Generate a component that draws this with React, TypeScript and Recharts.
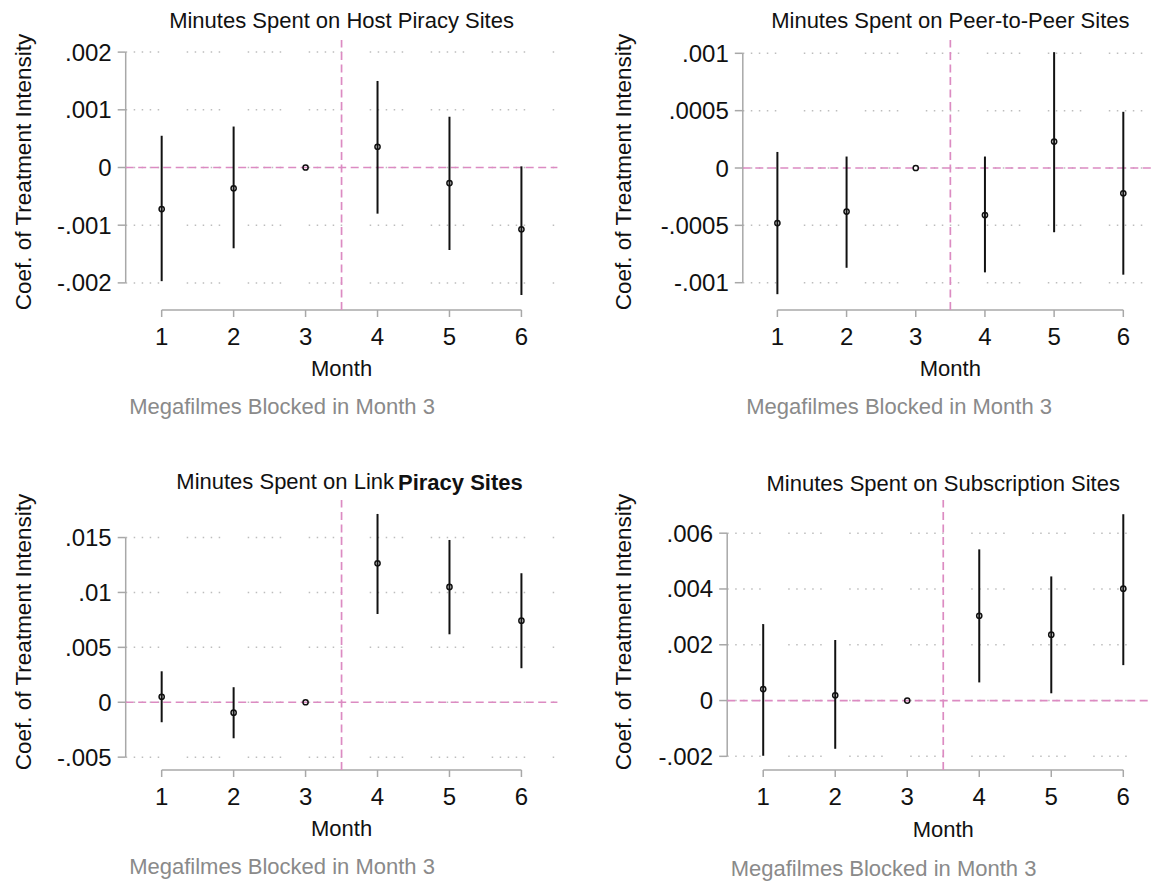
import React from "react";
import {
  CartesianGrid,
  ComposedChart,
  ErrorBar,
  ReferenceLine,
  Scatter,
  XAxis,
  YAxis,
} from "recharts";

const months = [1, 2, 3, 4, 5, 6];

// Host piracy sites
const hostEst = [-0.00072, -0.00036, 0, 0.00036, -0.00027, -0.00107];
const hostLo = [-0.00197, -0.0014, 0, -0.0008, -0.00143, -0.00221];
const hostHi = [0.00055, 0.00071, 0, 0.0015, 0.00088, 0.00002];
const hostTicks = [-0.002, -0.001, 0, 0.001, 0.002];

// Peer-to-peer sites
const p2pEst = [-0.00048, -0.00038, 0, -0.00041, 0.00023, -0.00022];
const p2pLo = [-0.0011, -0.00087, 0, -0.00091, -0.00056, -0.00093];
const p2pHi = [0.00014, 0.0001, 0, 0.0001, 0.00101, 0.00049];
const p2pTicks = [-0.001, -0.0005, 0, 0.0005, 0.001];

// Link piracy sites
const linkEst = [0.0005, -0.00095, 0, 0.01266, 0.0105, 0.00743];
const linkLo = [-0.00182, -0.00328, 0, 0.00804, 0.00619, 0.0031];
const linkHi = [0.00282, 0.00137, 0, 0.01715, 0.01478, 0.01175];
const linkTicks = [-0.005, 0, 0.005, 0.01, 0.015];

// Subscription sites
const subEst = [0.00041, 0.00019, 0, 0.00304, 0.00236, 0.00401];
const subLo = [-0.00198, -0.00173, 0, 0.00065, 0.00026, 0.00127];
const subHi = [0.00274, 0.00217, 0, 0.00542, 0.00445, 0.00668];
const subTicks = [-0.002, 0, 0.002, 0.004, 0.006];

const FONT = '"Liberation Sans", Arial, Helvetica, sans-serif';
const INK = "#111111";
const AXIS = "#a8a8a8";
const PINK = "#dc8bc2";
const NOTE = "#8a8a8a";
const GRID_DASH = "1.5 6.5 1.5 6.5 1.5 6.5 1.5 6.5 1.5 27.5";

function fmt(v: number): string {
  if (v === 0) return "0";
  return String(v).replace("0.", ".");
}

interface PanelProps {
  title: string;
  boldTail?: string;
  est: number[];
  lo: number[];
  hi: number[];
  ticks: number[];
  domain: [number, number];
  left: number;
  top: number;
  width: number;
  height: number;
  yAxisWidth: number;
  marginRight: number;
  titleY: number;
  titleShift: number;
  monthY: number;
  noteY: number;
}

function Dot(props: any) {
  const { cx, cy } = props;
  if (cx == null || cy == null) return null;
  return <circle cx={cx} cy={cy} r={2.6} fill="none" stroke={INK} strokeWidth={1.5} />;
}

function Panel(p: PanelProps) {
  const rows = months.map((m, i) => ({
    month: m,
    est: p.est[i],
    err: [p.est[i] - p.lo[i], p.hi[i] - p.est[i]],
  }));
  const plotLeft = p.yAxisWidth;
  const plotRight = p.width - p.marginRight;
  const plotCenter = (plotLeft + plotRight) / 2;
  const [dMin, dMax] = p.domain;

  // grid rows only at the labelled ticks (not at the plot edges)
  const gridRows = (args: any) => {
    const off = args && args.offset ? args.offset : { top: 40, height: 270 };
    return p.ticks.map((t) => off.top + ((dMax - t) / (dMax - dMin)) * off.height);
  };

  const extraText = () => (
    <g fontFamily={FONT}>
      <text
        x={plotCenter + p.titleShift}
        y={p.titleY}
        textAnchor="middle"
        dominantBaseline="central"
        fontSize={22}
        fill={INK}
      >
        {p.title}
        {p.boldTail ? (
          <tspan fontWeight="bold" dx={4}>
            {p.boldTail}
          </tspan>
        ) : null}
      </text>
      <text
        x={plotCenter}
        y={p.monthY}
        textAnchor="middle"
        dominantBaseline="central"
        fontSize={22}
        fill={INK}
      >
        Month
      </text>
      <text
        x={plotLeft + 3.5}
        y={p.noteY}
        textAnchor="start"
        dominantBaseline="central"
        fontSize={22}
        fill={NOTE}
      >
        Megafilmes Blocked in Month 3
      </text>
    </g>
  );

  const titleX = p.left === 0 ? 23 : 47.7;
  const yTitle = () => (
    <text
      x={titleX}
      y={172}
      transform={`rotate(-90, ${titleX}, 172)`}
      textAnchor="middle"
      dominantBaseline="central"
      fontFamily={FONT}
      fontSize={22.5}
      fill={INK}
    >
      Coef. of Treatment Intensity
    </text>
  );

  return (
    <div style={{ position: "absolute", left: p.left, top: p.top }}>
      <ComposedChart
        width={p.width}
        height={p.height}
        data={rows}
        margin={{ top: 40, right: p.marginRight, left: 0, bottom: p.height - 310 - 30 }}
      >
        <CartesianGrid
          vertical={false}
          stroke="#bdbdbd"
          strokeWidth={1.5}
          strokeDasharray={GRID_DASH}
          horizontalCoordinatesGenerator={gridRows}
        />
        <XAxis
          dataKey="month"
          type="number"
          domain={[0.5, 6.5]}
          ticks={months}
          allowDataOverflow
          height={30}
          axisLine={false}
          tickLine={{ stroke: AXIS, strokeWidth: 1.5 }}
          tickSize={7}
          tickMargin={11}
          tick={{ fontFamily: FONT, fontSize: 24, fill: INK }}
          label={{ content: extraText }}
        />
        <YAxis
          dataKey="est"
          type="number"
          domain={p.domain}
          ticks={p.ticks}
          allowDataOverflow
          width={p.yAxisWidth}
          axisLine={false}
          tickLine={{ stroke: AXIS, strokeWidth: 1.5 }}
          tickSize={8}
          tickMargin={6}
          tickFormatter={fmt}
          tick={{ fontFamily: FONT, fontSize: 24, fill: INK }}
          label={{ content: yTitle }}
        />
        <ReferenceLine
          segment={[
            { x: 0.5, y: p.ticks[0] },
            { x: 0.5, y: p.ticks[p.ticks.length - 1] },
          ]}
          stroke={AXIS}
          strokeWidth={1.5}
          ifOverflow="visible"
        />
        <ReferenceLine
          segment={[
            { x: 1, y: dMin },
            { x: 6, y: dMin },
          ]}
          stroke={AXIS}
          strokeWidth={1.5}
          ifOverflow="visible"
        />
        <ReferenceLine y={0} stroke={PINK} strokeWidth={1.7} strokeDasharray="8 4.5" />
        <ReferenceLine x={3.5} stroke={PINK} strokeWidth={1.7} strokeDasharray="8 4.5" />
        <Scatter dataKey="est" shape={<Dot />} isAnimationActive={false}>
          <ErrorBar
            dataKey="err"
            direction="y"
            width={0}
            stroke={INK}
            strokeWidth={2}
            isAnimationActive={false}
          />
        </Scatter>
      </ComposedChart>
    </div>
  );
}

export default function App() {
  return (
    <div
      style={{
        position: "absolute",
        left: 0,
        top: 0,
        width: 1151,
        height: 882,
        overflow: "hidden",
        background: "#ffffff",
      }}
    >
      <Panel
        title="Minutes Spent on Host Piracy Sites"
        est={hostEst}
        lo={hostLo}
        hi={hostHi}
        ticks={hostTicks}
        domain={[-0.00247, 0.00221]}
        left={0}
        top={0}
        width={575}
        height={441}
        yAxisWidth={125.7}
        marginRight={17.6}
        titleY={20}
        titleShift={0}
        monthY={368}
        noteY={406}
      />
      <Panel
        title="Minutes Spent on Peer-to-Peer Sites"
        est={p2pEst}
        lo={p2pLo}
        hi={p2pHi}
        ticks={p2pTicks}
        domain={[-0.001238, 0.001116]}
        left={576}
        top={0}
        width={590}
        height={441}
        yAxisWidth={166.8}
        marginRight={8.1}
        titleY={20}
        titleShift={0}
        monthY={368}
        noteY={406}
      />
      <Panel
        title="Minutes Spent on Link"
        boldTail="Piracy Sites"
        est={linkEst}
        lo={linkLo}
        hi={linkHi}
        ticks={linkTicks}
        domain={[-0.00617, 0.01842]}
        left={0}
        top={460}
        width={575}
        height={422}
        yAxisWidth={125.7}
        marginRight={17.6}
        titleY={21.7}
        titleShift={8}
        monthY={368.3}
        noteY={406}
      />
      <Panel
        title="Minutes Spent on Subscription Sites"
        est={subEst}
        lo={subLo}
        hi={subHi}
        ticks={subTicks}
        domain={[-0.00249, 0.00719]}
        left={576}
        top={460}
        width={590}
        height={422}
        yAxisWidth={151.2}
        marginRight={6.7}
        titleY={23.3}
        titleShift={0}
        monthY={369.3}
        noteY={408}
      />
    </div>
  );
}
